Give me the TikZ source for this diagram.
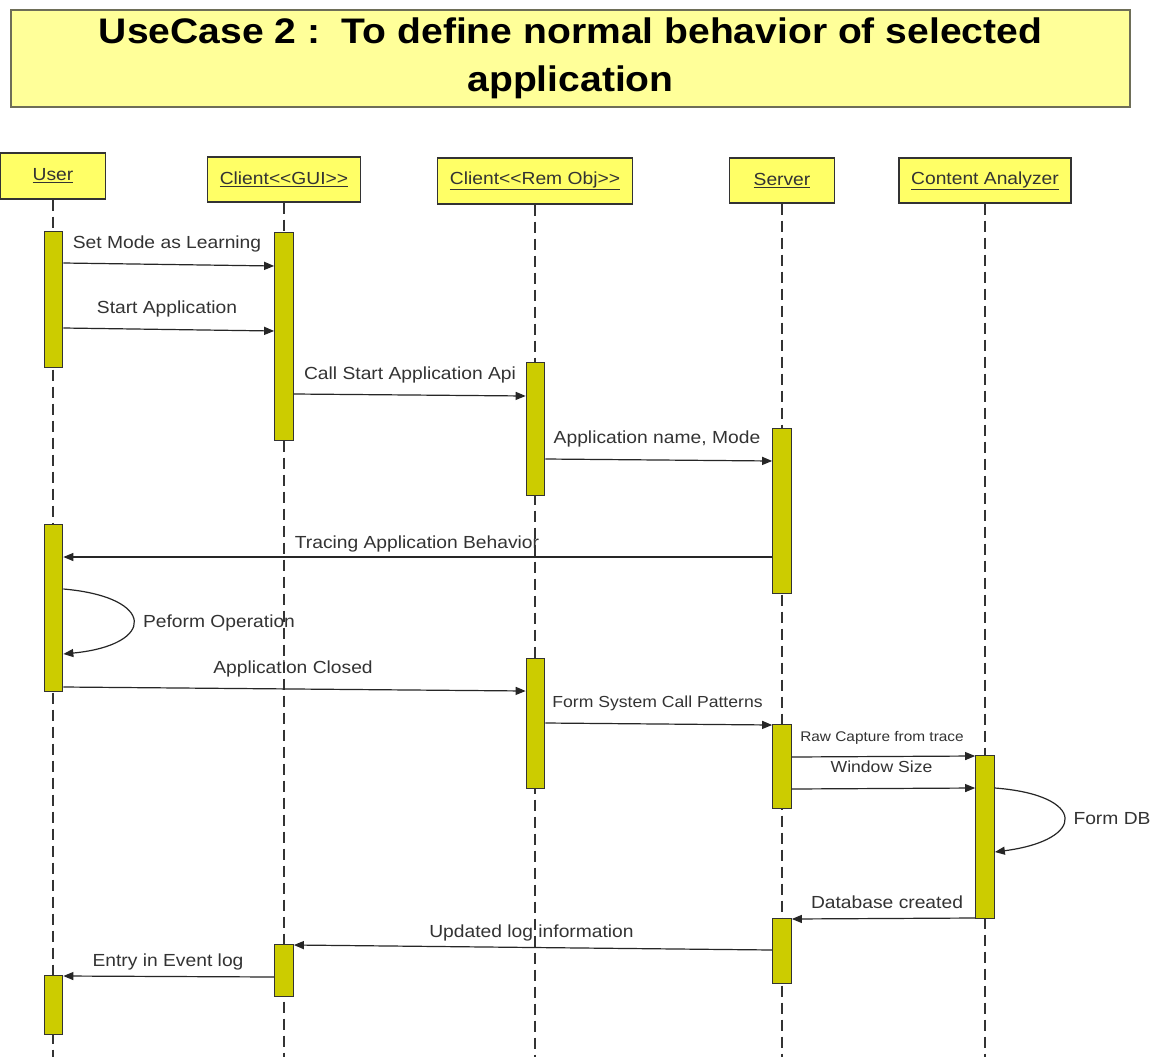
\documentclass[tikz,border=0pt]{standalone}
\usepackage{fontspec}
\setmainfont[FakeStretch=1.1]{Liberation Sans}
\usetikzlibrary{arrows.meta,calc}
\definecolor{titlefill}{HTML}{FFFF99}
\definecolor{titleedge}{HTML}{6E6E58}
\definecolor{headfill}{HTML}{FFFF66}
\definecolor{barfill}{HTML}{CCCC00}
\definecolor{ink}{HTML}{333333}

\begin{document}
\begin{tikzpicture}[x=1pt,y=-1pt,
  lifehead/.style={draw=ink, line width=1.3pt, fill=headfill, inner sep=0pt,
    font=\fontsize{17.5}{21}\selectfont, text=ink},
  actbar/.style={draw=ink, line width=1.2pt, fill=barfill, minimum width=18.5pt,
    inner sep=0pt, anchor=north},
  lifeline/.style={draw=ink, line width=2pt, dash pattern=on 11pt off 6pt},
  msg/.style={draw=black!85, line width=1.2pt, -{Triangle[length=10pt,width=8pt]}},
  lbl/.style={anchor=base, font=\fontsize{17.5}{21}\selectfont, text=ink, inner sep=0pt},
  midlbl/.style={lbl, font=\fontsize{16}{19}\selectfont},
  smalllbl/.style={lbl, font=\fontsize{14}{17}\selectfont}
]
\useasboundingbox (0,0) rectangle (1153,1057);
\fill[white] (0,0) rectangle (1153,1057);

% title banner
\node[draw=titleedge, line width=1.5pt, fill=titlefill, minimum width=1119pt,
  minimum height=97pt, align=center, inner sep=0pt,
  font=\bfseries\fontsize{35.5}{48}\selectfont] (title) at (570.5,58.5)
  {UseCase 2 :\ \ To define normal behavior of selected\\application};

% lifeline heads
\node[lifehead, minimum width=105pt, minimum height=46pt] (hu) at (53,176) {\underline{User}};
\node[lifehead, minimum width=153pt, minimum height=45pt] (hg) at (284,179.5) {\underline{Client<{}<GUI>{}>}};
\node[lifehead, minimum width=195pt, minimum height=46pt] (hr) at (535,181) {\underline{Client<{}<Rem Obj>{}>}};
\node[lifehead, minimum width=105pt, minimum height=45pt] (hs) at (782,180.5) {\underline{Server}};
\node[lifehead, minimum width=172pt, minimum height=45pt] (hc) at (985,180.5) {\underline{Content Analyzer}};

% dashed lifelines
\coordinate (bottom) at (0,1057);
\foreach \h in {hu,hg,hr,hs,hc}
  \draw[lifeline] (\h.south) -- (\h.south |- bottom);

% activation bars
\node[actbar, minimum height=136pt] (u1) at (53.5,231) {};
\node[actbar, minimum height=208pt] (g1) at (284,232) {};
\node[actbar, minimum height=133pt] (r1) at (535.5,362) {};
\node[actbar, minimum height=165pt] (s1) at (782,428) {};
\node[actbar, minimum height=167pt] (u2) at (53.5,524) {};
\node[actbar, minimum height=130pt] (r2) at (535.5,658) {};
\node[actbar, minimum height=84pt]  (s2) at (782,724) {};
\node[actbar, minimum height=163pt] (c1) at (985,755) {};
\node[actbar, minimum height=65pt]  (s3) at (782,918) {};
\node[actbar, minimum height=52pt]  (g2) at (284,944) {};
\node[actbar, minimum height=59pt]  (u3) at (53.5,975) {};

% messages
\draw[msg] ($(u1.north east)+(0,32)$) -- ($(g1.north west)+(0,34)$);
\draw[msg] ($(u1.north east)+(0,97)$) -- ($(g1.north west)+(0,99)$);
\draw[msg] ($(g1.north east)+(0,162)$) -- ($(r1.north west)+(0,34)$);
\draw[msg] ($(r1.north east)+(0,97)$) -- ($(s1.north west)+(0,33)$);
\draw[msg] ($(s1.north west)+(0,129)$) -- ($(u2.north east)+(0,33)$);
\draw[msg] ($(u2.north east)+(0,65)$) .. controls +(93,8) and +(93,-9) .. ($(u2.north east)+(0,130)$);
\draw[msg] ($(u2.north east)+(0,163)$) -- ($(r2.north west)+(0,33)$);
\draw[msg] ($(r2.north east)+(0,65)$) -- ($(s2.north west)+(0,1)$);
\draw[msg] ($(s2.north east)+(0,33)$) -- ($(c1.north west)+(0,1)$);
\draw[msg] ($(s2.north east)+(0,65)$) -- ($(c1.north west)+(0,33)$);
\draw[msg] ($(c1.north east)+(0,33)$) .. controls +(92,7) and +(92,-12) .. ($(c1.north east)+(0,97)$);
\draw[msg] ($(c1.north west)+(0,163)$) -- ($(s3.north east)+(0,1)$);
\draw[msg] ($(s3.north west)+(0,32)$) -- ($(g2.north east)+(0,1)$);
\draw[msg] ($(g2.north west)+(0,33)$) -- ($(u3.north east)+(0,1)$);

% message labels
\node[lbl] (m1) at (167,248) {Set Mode as Learning};
\node[lbl] (m2) at (167,313) {Start Application};
\node[lbl] (m3) at (410,379) {Call Start Application Api};
\node[lbl] (m4) at (657,443) {Application name, Mode};
\node[lbl] (m5) at (417,548) {Tracing Application Behavior};
\node[lbl] (m6) at (219,627) {Peform Operation};
\node[lbl] (m7) at (293,673) {Application Closed};
\node[midlbl] (m8) at (657.5,707) {Form System Call Patterns};
\node[smalllbl] (m9) at (882,741) {Raw Capture from trace};
\node[midlbl] (m10) at (881.5,772) {Window Size};
\node[lbl] (m11) at (1112,824) {Form DB};
\node[lbl] (m12) at (887,908) {Database created};
\node[lbl] (m13) at (531.5,937) {Updated log information};
\node[lbl] (m14) at (168,966) {Entry in Event log};
\end{tikzpicture}
\end{document}
